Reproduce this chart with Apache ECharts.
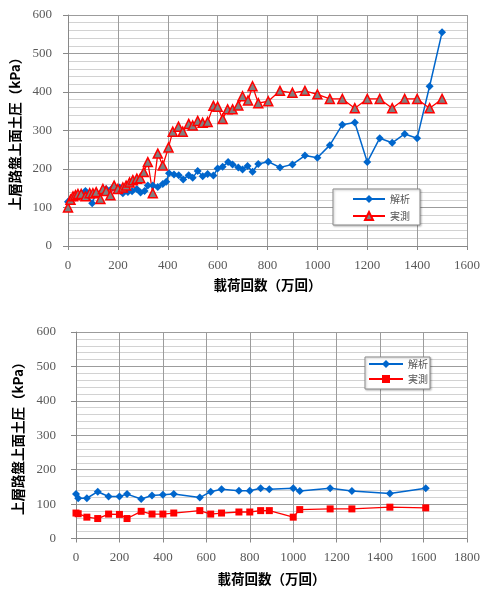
<!DOCTYPE html>
<html>
<head>
<meta charset="utf-8">
<script src="https://cdn.jsdelivr.net/npm/echarts@6/dist/echarts.min.js"></script>
<style>
  html, body { margin: 0; padding: 0; background: #fff; }
  #c1 { position: absolute; left: 0; top: 0; width: 483px; height: 300px; }
  #c2 { position: absolute; left: 0; top: 300px; width: 483px; height: 291px; }
</style>
</head>
<body>
<div id="c1"></div>
<div id="c2"></div>
<script>
// Upper chart: analysis vs. measured earth pressure at top of base course
const topCalcX = [0, 13, 30, 50, 70, 97, 113, 133, 153, 180, 207, 220, 240, 257, 276, 291, 307, 320, 340, 360, 380, 394, 405, 425, 444, 462, 484, 500, 520, 540, 560, 583, 600, 620, 642, 660, 683, 700, 720, 740, 763, 803, 850, 900, 950, 1000, 1050, 1100, 1150, 1200, 1250, 1300, 1350, 1400, 1450, 1500];
const topCalcY = [115, 122, 126, 132, 143, 111, 139, 139, 148, 152, 152, 137, 140, 142, 148, 139, 143, 157, 157, 153, 161, 167, 189, 186, 184, 173, 184, 177, 195, 181, 187, 183, 201, 206, 218, 212, 204, 199, 208, 193, 213, 219, 204, 212, 235, 229, 262, 315, 321, 218, 280, 268, 291, 280, 415, 555];
const topMeasX = [0, 10, 20, 30, 40, 53, 70, 87, 100, 113, 130, 140, 153, 170, 185, 200, 220, 233, 247, 260, 276, 290, 304, 320, 340, 360, 380, 403, 420, 443, 460, 484, 500, 520, 540, 560, 583, 600, 620, 640, 660, 683, 700, 722, 740, 763, 803, 850, 900, 950, 1000, 1050, 1100, 1150, 1200, 1250, 1300, 1350, 1400, 1450, 1500];
const topMeasY = [100, 120, 129, 132, 135, 135, 129, 137, 137, 140, 122, 148, 143, 132, 157, 148, 152, 157, 165, 171, 175, 176, 192, 218, 137, 240, 209, 256, 297, 310, 297, 317, 313, 325, 320, 322, 364, 362, 330, 355, 355, 365, 389, 378, 415, 371, 376, 403, 398, 403, 394, 382, 382, 358, 382, 382, 358, 382, 382, 358, 382];

// Lower chart
const botX = [0, 10, 50, 100, 150, 200, 235, 300, 350, 400, 450, 570, 620, 670, 750, 800, 850, 890, 1000, 1030, 1170, 1270, 1445, 1610];
const botCalcY = [129, 117, 117, 136, 122, 122, 129, 115, 125, 127, 129, 119, 136, 143, 139, 139, 146, 143, 146, 138, 146, 138, 131, 146];
const botMeasY = [74, 72, 62, 58, 71, 70, 58, 79, 71, 71, 74, 81, 71, 74, 77, 77, 81, 81, 62, 84, 86, 86, 91, 89];

const xName = '載荷回数（万回）';
const yName = '上層路盤上面土圧（kPa）';
const nameCalc = '解析';
const nameMeas = '実測';

const pairs = (xs, ys) => xs.map((x, i) => [x, ys[i]]);

const titleStyle = { fontFamily: 'Noto Sans CJK JP', fontWeight: 'bold', fontSize: 13.5, color: '#000' };
const tickLabel = { fontFamily: 'Liberation Serif', fontSize: 13, color: '#595959', formatter: v => String(v) };

function xAxisCfg(max, nameGap) {
  return {
    type: 'value', min: 0, max: max, interval: 200,
    name: xName, nameLocation: 'middle', nameGap: nameGap, nameTextStyle: titleStyle,
    axisLine: { show: true, lineStyle: { color: '#888', width: 1 } },
    axisTick: { show: true, length: 4, lineStyle: { color: '#888' } },
    axisLabel: Object.assign({ margin: 13 }, tickLabel),
    splitLine: { show: true, lineStyle: { color: '#9c9c9c', width: 1 } }
  };
}

function yAxisCfg(labelMargin, nameGap) {
  return {
    type: 'value', min: 0, max: 600, interval: 100,
    name: yName, nameLocation: 'middle', nameGap: nameGap, nameTextStyle: titleStyle,
    axisLine: { show: true, lineStyle: { color: '#888', width: 1 } },
    axisTick: { show: true, length: 5, lineStyle: { color: '#888' } },
    axisLabel: Object.assign({ margin: labelMargin }, tickLabel),
    splitLine: { show: true, lineStyle: { color: '#9c9c9c', width: 1 } },
    minorTick: { show: false, splitNumber: 5 },
    minorSplitLine: { show: true, lineStyle: { color: '#d2d2d2', width: 1 } }
  };
}

function legendCfg(left, top, padding, itemWidth, itemHeight, itemGap) {
  return {
    orient: 'vertical', left: left, top: top, padding: padding,
    itemWidth: itemWidth, itemHeight: itemHeight, itemGap: itemGap,
    backgroundColor: '#fff', borderColor: '#8a8a8a', borderWidth: 1,
    shadowColor: 'rgba(0,0,0,0.25)', shadowBlur: 2, shadowOffsetX: 1, shadowOffsetY: 1,
    textStyle: { fontFamily: 'Noto Sans CJK JP', fontSize: 10, color: '#555' },
    data: [nameCalc, nameMeas]
  };
}

const chart1 = echarts.init(document.getElementById('c1'));
chart1.setOption({
  animation: false,
  backgroundColor: '#fff',
  grid: { left: 68, right: 14, top: 15, bottom: 54, containLabel: false },
  xAxis: xAxisCfg(1600, 32),
  yAxis: yAxisCfg(16, 44),
  legend: legendCfg(333, 189, [5, 10, 4, 19], 32, 10, 7),
  series: [
    {
      name: nameCalc, type: 'line', data: pairs(topCalcX, topCalcY),
      symbol: 'diamond', symbolSize: 8, showAllSymbol: true,
      lineStyle: { color: '#0066cc', width: 1.5 },
      itemStyle: { color: '#0066cc' }
    },
    {
      name: nameMeas, type: 'line', data: pairs(topMeasX, topMeasY),
      symbol: 'triangle', symbolSize: 9, showAllSymbol: true,
      lineStyle: { color: '#ff0000', width: 1.3 },
      itemStyle: { color: '#808080', borderColor: '#ff0000', borderWidth: 1.5 }
    }
  ]
});

const chart2 = echarts.init(document.getElementById('c2'));
chart2.setOption({
  animation: false,
  backgroundColor: '#fff',
  grid: { left: 76, right: 16, top: 32, bottom: 45, containLabel: false },
  xAxis: xAxisCfg(1800, 34),
  yAxis: yAxisCfg(20, 51),
  legend: legendCfg(365, 57, [2, 2, 5, 3], 34, 10, 5),
  series: [
    {
      name: nameCalc, type: 'line', data: pairs(botX, botCalcY),
      symbol: 'diamond', symbolSize: 8, showAllSymbol: true,
      lineStyle: { color: '#0066cc', width: 1.5 },
      itemStyle: { color: '#0066cc' }
    },
    {
      name: nameMeas, type: 'line', data: pairs(botX, botMeasY),
      symbol: 'rect', symbolSize: 7, showAllSymbol: true,
      lineStyle: { color: '#ff0000', width: 1.3 },
      itemStyle: { color: '#ff0000' }
    }
  ]
});
</script>
</body>
</html>
